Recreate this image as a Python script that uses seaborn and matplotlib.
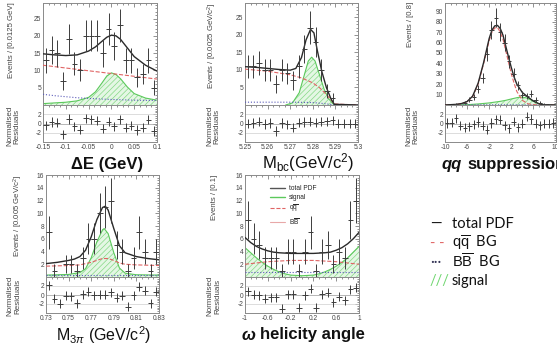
import numpy as np
import matplotlib
matplotlib.use("Agg")
import matplotlib.pyplot as plt
import seaborn as sns
from matplotlib.lines import Line2D
from matplotlib.ticker import AutoMinorLocator

# ---------------- data ----------------
# Delta E panel
de_range = (-0.15, 0.1)
de_counts = [13, 16, 15, 7, 19, 12, 10, 20, 20, 20, 15, 22, 17, 23, 13, 13, 8, 9, 13, 5]
de_resid = [-0.4, 0.3, 0.2, -2.3, 1.0, -0.6, -1.3, 1.1, 0.9, 0.6, -1.1, 0.4, -0.6, 0.9, -0.9, -0.5, -1.4, -0.9, 0.8, -1.6]
de_tot_x = [-0.15, -0.125, -0.1, -0.075, -0.05, -0.035, -0.02, -0.01, 0.0, 0.01, 0.02, 0.035, 0.05, 0.075, 0.1]
de_tot_y = [14.8, 14.5, 14.3, 14.5, 15.6, 16.8, 18.5, 19.6, 20.2, 20.0, 19.0, 16.5, 14.0, 11.5, 9.8]
de_qq_x = [-0.15, -0.1, -0.05, 0.0, 0.05, 0.1]
de_qq_y = [11.5, 10.7, 9.9, 9.1, 8.3, 7.5]
de_bb_x = [-0.15, -0.125, -0.1, -0.075, -0.05, 0.0, 0.05, 0.1]
de_bb_y = [3.1, 2.7, 2.4, 2.1, 1.9, 1.6, 1.4, 1.3]
de_sig_x = [-0.15, -0.1, -0.075, -0.05, -0.035, -0.02, -0.01, 0.0, 0.01, 0.02, 0.035, 0.05, 0.075, 0.1]
de_sig_y = [0.4, 0.8, 1.2, 2.2, 3.8, 6.5, 8.4, 9.3, 8.8, 7.6, 5.2, 3.3, 2.0, 1.4]

# Mbc panel
mb_range = (5.25, 5.30)
mb_counts = [11, 11, 12, 10, 10, 6, 10, 9, 7, 11, 16, 22, 18, 10, 4, 2, 0, 0, 0, 0]
mb_resid = [0.0, 0.1, 0.4, -0.1, 0.1, -1.6, 0.1, -0.2, -0.9, 0.2, 0.3, 0.4, 0.2, 0.4, 0.5, 0.7, 0.0, 0.0, 0.0, 0.0]
mb_tot_x = [5.25, 5.255, 5.26, 5.265, 5.27, 5.2725, 5.275, 5.277, 5.279, 5.2805, 5.282, 5.284, 5.286, 5.288, 5.2895, 5.30]
mb_tot_y = [10.9, 10.7, 10.4, 10.1, 9.9, 10.4, 13.5, 18.5, 21.5, 20.5, 15.5, 9.5, 5.0, 1.8, 0.2, 0.0]
mb_qq_x = [5.25, 5.26, 5.27, 5.275, 5.28, 5.283, 5.286, 5.288, 5.2895, 5.30]
mb_qq_y = [10.2, 9.6, 8.6, 7.7, 6.3, 4.9, 3.0, 1.5, 0.3, 0.0]
mb_bb_x = [5.25, 5.27, 5.28, 5.285, 5.29, 5.30]
mb_bb_y = [0.8, 0.8, 0.7, 0.4, 0.0, 0.0]
mb_sig_x = [5.268, 5.271, 5.274, 5.276, 5.278, 5.2795, 5.281, 5.283, 5.285, 5.287, 5.289, 5.29]
mb_sig_y = [0.0, 0.6, 3.5, 8.0, 12.5, 13.6, 12.5, 8.5, 4.5, 1.8, 0.3, 0.0]

# qq suppression panel
qs_range = (-10.0, 10.0)
qs_counts = [0, 0, 1, 0, 2, 5, 8, 15, 26, 49, 72, 84, 70, 60, 42, 30, 19, 10, 9, 11, 5, 2, 1, 0, 0]
qs_resid = [0.1, 0.2, 1.1, -0.5, -0.9, -0.6, -0.2, 0.3, -0.5, -1.3, 0.1, 0.9, 0.8, -0.4, -1.0, 0.4, -0.8, 0.0, 1.5, 1.0, 0.0, -0.4, 0.0, 0.0, 0.1]
qs_tot_x = [-10, -8, -7, -6, -5, -4, -3, -2, -1.5, -1, -0.5, 0, 0.5, 1, 1.5, 2, 2.5, 3, 4, 5, 6, 7, 8, 10]
qs_tot_y = [0, 0.6, 1.4, 3.3, 8.5, 21, 41, 64, 72, 76, 76.5, 73.5, 67, 56.5, 46, 36, 27, 20, 12, 7.7, 3.8, 1.2, 0.2, 0]
qs_qq_x = [-10, -8, -7, -6, -5, -4, -3, -2, -1.5, -1, -0.5, 0, 0.5, 1, 1.5, 2, 2.5, 3, 4, 5, 6, 7, 10]
qs_qq_y = [0, 0.5, 1.2, 3, 8, 20, 40, 62, 70, 74, 74.5, 70, 63, 52, 41, 30, 21, 13, 4.5, 1.2, 0.3, 0, 0]
qs_bb_x = [-10, 0, 10]
qs_bb_y = [0.1, 0.2, 0.1]
qs_sig_x = [-10, -6, -4, -2, 0, 1, 2, 3, 3.5, 4, 5, 6, 7, 8, 10]
qs_sig_y = [0, 0.3, 1, 2, 3.5, 4.5, 5.8, 7, 7.5, 7.6, 6.5, 3.5, 1.2, 0.2, 0]

# M(3pi) panel
m3_range = (0.73, 0.83)
m3_counts = [7, 1, 0, 2, 2, 1, 3, 6, 6, 10, 11, 12, 5, 4, 1, 3, 7, 4, 1, 4]
m3_resid = [2.2, -0.8, -1.9, -0.2, -0.3, -1.8, 0.2, 0.7, 0.0, 0.1, 0.1, 0.6, -0.6, -0.2, -2.6, 0.0, 1.8, 1.0, -1.8, 0.7]
m3_tot_x = [0.73, 0.74, 0.75, 0.755, 0.76, 0.765, 0.77, 0.775, 0.78, 0.7825, 0.785, 0.79, 0.795, 0.80, 0.81, 0.82, 0.83]
m3_tot_y = [2.1, 2.3, 2.6, 2.8, 3.2, 4.2, 6.3, 9.0, 10.9, 11.1, 10.5, 7.6, 4.9, 3.8, 3.2, 2.9, 2.7]
m3_qq_x = [0.73, 0.75, 0.76, 0.77, 0.775, 0.78, 0.785, 0.79, 0.795, 0.80, 0.81, 0.83]
m3_qq_y = [1.7, 1.8, 1.9, 2.3, 2.6, 2.9, 2.9, 2.6, 2.2, 2.0, 1.9, 1.8]
m3_bb_x = [0.73, 0.78, 0.83]
m3_bb_y = [0.3, 0.3, 0.3]
m3_sig_x = [0.73, 0.75, 0.76, 0.765, 0.77, 0.775, 0.78, 0.7815, 0.785, 0.79, 0.795, 0.80, 0.81, 0.83]
m3_sig_y = [0.3, 0.4, 0.7, 1.3, 3.0, 5.5, 7.4, 7.6, 6.8, 3.8, 1.4, 0.6, 0.35, 0.3]

# omega helicity panel
wh_range = (-1.0, 1.0)
wh_counts = [9, 6, 5, 3, 3, 3, 1, 4, 4, 1, 4, 7, 1, 4, 5, 2, 4, 3, 9, 12]
wh_resid = [0.8, 0.1, 0.0, -0.8, -0.5, -0.5, -3.0, 0.2, 0.2, -2.8, 0.0, 1.4, -2.8, 0.2, 0.5, -1.6, -0.4, -1.2, 1.3, 1.6]
wh_tot_x = [-1, -0.9, -0.8, -0.7, -0.6, -0.5, -0.4, -0.2, 0, 0.2, 0.4, 0.5, 0.6, 0.7, 0.8, 0.9, 1]
wh_tot_y = [6.2, 5.4, 4.8, 4.4, 4.1, 3.9, 3.8, 3.7, 3.7, 3.7, 3.8, 3.9, 4.2, 4.6, 5.2, 6.0, 7.0]
wh_qq_x = [-1, -0.8, -0.6, -0.4, -0.2, 0, 0.2, 0.4, 0.6, 0.8, 1]
wh_qq_y = [2.0, 2.2, 2.4, 2.5, 2.6, 2.6, 2.6, 2.5, 2.4, 2.2, 2.0]
wh_bb_x = [-1, 0, 1]
wh_bb_y = [0.8, 0.8, 0.8]
wh_sig_x = [-1, -0.9, -0.8, -0.7, -0.6, -0.5, -0.4, -0.3, -0.2, 0, 0.2, 0.3, 0.4, 0.5, 0.6, 0.7, 0.8, 0.9, 1]
wh_sig_y = [4.6, 3.8, 3.0, 2.3, 1.7, 1.2, 0.8, 0.5, 0.3, 0.2, 0.3, 0.5, 0.8, 1.2, 1.7, 2.3, 3.0, 3.9, 4.8]

# ---------------- styling ----------------
sns.set_theme(style="white")
plt.rcParams["font.family"] = ["Liberation Sans", "DejaVu Sans"]
plt.rcParams["mathtext.fontset"] = "custom"
plt.rcParams["mathtext.rm"] = "Liberation Sans"
plt.rcParams["mathtext.it"] = "Liberation Sans:italic"
plt.rcParams["mathtext.bf"] = "Liberation Sans:bold"
plt.rcParams["hatch.linewidth"] = 0.5

W, H = 557, 348
fig = plt.figure(figsize=(W / 100, H / 100), dpi=100)
fig.patch.set_facecolor("white")

C_TOT = "#2a2a2a"
C_QQ = "#e06464"
C_BB = "#5a5ab8"
C_SIG = "#5cc95c"
C_FILL = "#e4f7e4"
C_ERR = "#3c3c3c"


def px_axes(l, r, t, b):
    return fig.add_axes([l / W, 1 - b / H, (r - l) / W, (b - t) / H])


def style(ax, xlim, ylim, yticks, xticks, xlabels, show_x):
    ax.set_xlim(*xlim)
    ax.set_ylim(*ylim)
    ax.set_yticks(yticks)
    ax.set_yticklabels([f"{v:g}" for v in yticks])
    ax.set_xticks(xticks)
    ax.set_xticklabels(xlabels)
    ax.xaxis.set_minor_locator(AutoMinorLocator(4))
    ax.yaxis.set_minor_locator(AutoMinorLocator(5))
    ax.tick_params(which="both", direction="in", top=True, right=True,
                   colors="#666666", labelcolor="#444444", labelsize=4.8,
                   width=0.5, pad=1.3, labelbottom=show_x)
    ax.tick_params(which="major", length=3)
    ax.tick_params(which="minor", length=1.5)
    for s in ax.spines.values():
        s.set_color("#8a8a8a")
        s.set_linewidth(0.7)
    ax.set_xlabel("")
    ax.set_ylabel("")


def panel(box, rng, counts, resid, tot, qq, bb, sig, ylim, yticks, xticks, xlabels):
    l, r, t, m, b = box
    main = px_axes(l, r, t, m)
    res = px_axes(l, r, m, b)
    nb = len(counts)
    edges = np.linspace(rng[0], rng[1], nb + 1)
    centers = 0.5 * (edges[:-1] + edges[1:])
    half = 0.5 * (edges[1] - edges[0])
    cnt = np.array(counts, dtype=float)

    main.fill_between(sig[0], 0, sig[1], facecolor=C_FILL, edgecolor="#86d886",
                      hatch="//////", linewidth=0, zorder=1)
    sns.lineplot(x=sig[0], y=sig[1], ax=main, color=C_SIG, lw=0.8, zorder=2)
    sns.lineplot(x=bb[0], y=bb[1], ax=main, color=C_BB, lw=0.8, linestyle=":", zorder=3)
    sns.lineplot(x=qq[0], y=qq[1], ax=main, color=C_QQ, lw=0.8, linestyle="--", zorder=3)
    sns.lineplot(x=tot[0], y=tot[1], ax=main, color=C_TOT, lw=1.0, zorder=4)
    ok = cnt > 0
    main.errorbar(centers[ok], cnt[ok], xerr=half, yerr=np.sqrt(cnt[ok]), fmt="none",
                  ecolor=C_ERR, elinewidth=0.7, capsize=0, zorder=5)

    for yv, c in [(2, "#cfcfcf"), (0, "#9a9a9a"), (-2, "#cfcfcf")]:
        res.axhline(yv, color=c, lw=0.5, zorder=1)
    res.errorbar(centers, resid, xerr=half, yerr=1.0, fmt="none",
                 ecolor=C_ERR, elinewidth=0.7, capsize=0, zorder=3)

    style(main, rng, ylim, yticks, xticks, xlabels, False)
    style(res, rng, (-4, 4), [-2, 0, 2], xticks, xlabels, True)
    return main, res


panel((43, 157, 3, 105, 142), de_range, de_counts, de_resid,
      (de_tot_x, de_tot_y), (de_qq_x, de_qq_y), (de_bb_x, de_bb_y), (de_sig_x, de_sig_y),
      (0, 29.5), [5, 10, 15, 20, 25],
      [-0.15, -0.1, -0.05, 0, 0.05, 0.1], ["-0.15", "-0.1", "-0.05", "0", "0.05", "0.1"])

panel((245, 358, 3, 105, 142), mb_range, mb_counts, mb_resid,
      (mb_tot_x, mb_tot_y), (mb_qq_x, mb_qq_y), (mb_bb_x, mb_bb_y), (mb_sig_x, mb_sig_y),
      (0, 29), [5, 10, 15, 20, 25],
      [5.25, 5.26, 5.27, 5.28, 5.29, 5.30], ["5.25", "5.26", "5.27", "5.28", "5.29", "5.3"])

panel((445, 555.5, 3, 105, 142), qs_range, qs_counts, qs_resid,
      (qs_tot_x, qs_tot_y), (qs_qq_x, qs_qq_y), (qs_bb_x, qs_bb_y), (qs_sig_x, qs_sig_y),
      (0, 98), [10, 20, 30, 40, 50, 60, 70, 80, 90],
      [-10, -6, -2, 2, 6, 10], ["-10", "-6", "-2", "2", "6", "10"])

panel((46, 159, 175, 277, 313), m3_range, m3_counts, m3_resid,
      (m3_tot_x, m3_tot_y), (m3_qq_x, m3_qq_y), (m3_bb_x, m3_bb_y), (m3_sig_x, m3_sig_y),
      (0, 16), [2, 4, 6, 8, 10, 12, 14, 16],
      [0.73, 0.75, 0.77, 0.79, 0.81, 0.83], ["0.73", "0.75", "0.77", "0.79", "0.81", "0.83"])

wh_main, wh_res = panel((245, 359, 175, 277, 313), wh_range, wh_counts, wh_resid,
      (wh_tot_x, wh_tot_y), (wh_qq_x, wh_qq_y), (wh_bb_x, wh_bb_y), (wh_sig_x, wh_sig_y),
      (0, 16), [2, 4, 6, 8, 10, 12, 14, 16],
      [-1, -0.6, -0.2, 0.2, 0.6, 1], ["-1", "-0.6", "-0.2", "0.2", "0.6", "1"])

# inset legend of the helicity panel
handles = [Line2D([], [], color="#555555", lw=1.0),
           Line2D([], [], color=C_SIG, lw=1.0),
           Line2D([], [], color=C_QQ, lw=0.8, linestyle="--"),
           Line2D([], [], color="#e8a8a8", lw=0.8)]
labels = ["total PDF", "signal", r"$\mathrm{q\overline{q}}$", r"$\mathrm{B\overline{B}}$"]
wh_main.legend(handles, labels, loc="upper left", bbox_to_anchor=(0.22, 0.9),
               frameon=False, fontsize=4.8, handlelength=2.2, handletextpad=0.6,
               labelspacing=0.25, borderpad=0, borderaxespad=0)

# ---------------- axis titles ----------------
def ytxt(x, y, s, va="top", size=5.6):
    fig.text(x / W, 1 - y / H, s, rotation=90, ha="center", va=va,
             fontsize=size, color="#444444", linespacing=1.05)

ytxt(12, 2, "Events / [0.0125 GeV]")
ytxt(212, 2, r"Events / [0.0025 GeV/c$^{2}$]")
ytxt(410, 2, "Events / [0.8]")
ytxt(18, 175, r"Events / [0.005 GeV/c$^{2}$]")
ytxt(215, 175, "Events / [0.1]")
for (x, y) in [(13, 126), (213.5, 126), (412.5, 126), (14, 296), (214, 296)]:
    ytxt(x, y, "Normalised\nResiduals", va="center", size=5.8)

# ---------------- panel titles ----------------
def title(x, y, s, ha="center", size=12, **kw):
    fig.text(x / W, 1 - y / H, s, ha=ha, va="center", fontsize=size, color="#111111", **kw)

title(107, 164, "ΔE (GeV)", weight="bold")
title(308, 163, r"M$_{\mathrm{bc}}$(GeV/c$^{2}$)")
title(442, 165, "qq", ha="left", weight="bold", style="italic")
title(467, 165, "suppression", ha="left", weight="bold")
title(104, 335, r"M$_{3\pi}$ (GeV/c$^{2}$)", size=11.5)
title(242, 335, "ω", ha="left", weight="bold", style="italic")
title(260, 335, "helicity angle", ha="left", weight="bold")

# ---------------- overall legend (bottom right) ----------------
leg_rows = [(224, "—", "#111111", "total PDF"),
            (243, "- -", C_QQ, r"$\mathrm{q\overline{q}}$  BG"),
            (262, "···", "#333355", r"$\mathrm{B\overline{B}}$  BG"),
            (281, "///", "#6fd66f", "signal")]
for y, sym, col, lab in leg_rows:
    fig.text(430 / W, 1 - y / H, sym, ha="left", va="center", fontsize=10.5,
             color=col, family=["Lato", "DejaVu Sans"])
    fig.text(452 / W, 1 - y / H, lab, ha="left", va="center", fontsize=10.5,
             color="#111111", family=["Lato", "DejaVu Sans"])

fig.savefig("out.png", dpi=100, facecolor="white")
